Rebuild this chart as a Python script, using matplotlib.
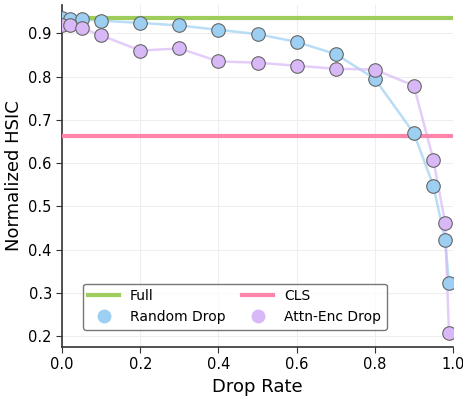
import numpy as np
import matplotlib.pyplot as plt
from matplotlib.lines import Line2D

drop_rate = [0.0, 0.02, 0.05, 0.1, 0.2, 0.3, 0.4, 0.5, 0.6, 0.7, 0.8, 0.9, 0.95, 0.98, 0.99]
random_drop = [0.935, 0.933, 0.932, 0.929, 0.924, 0.918, 0.908, 0.898, 0.880, 0.852,
               0.795, 0.669, 0.548, 0.422, 0.323]
attn_drop = [0.920, 0.919, 0.912, 0.895, 0.860, 0.865, 0.835, 0.832, 0.825, 0.818,
             0.816, 0.779, 0.608, 0.462, 0.208]
full_val = 0.935
cls_val = 0.663

c_full = '#9fcd5c'
c_cls = '#ff85ab'
c_rand = '#9ccff2'
c_attn = '#d9b8f7'

fig = plt.figure(figsize=(4.64, 3.96), dpi=100)
ax = fig.add_axes([0.134, 0.124, 0.842, 0.863])

ax.plot(drop_rate, random_drop, color=c_rand, lw=1.8, alpha=0.7, zorder=2)
ax.plot(drop_rate, attn_drop, color=c_attn, lw=1.8, alpha=0.7, zorder=2)
ax.axhline(full_val, color=c_full, lw=3, zorder=3)
ax.axhline(cls_val, color=c_cls, lw=3, zorder=3)
ax.scatter(drop_rate, random_drop, s=95, color=c_rand, edgecolor='#666666', lw=0.8, zorder=4)
ax.scatter(drop_rate, attn_drop, s=95, color=c_attn, edgecolor='#666666', lw=0.8, zorder=4)

ax.set_xlim(0, 1.0)
ax.set_ylim(0.175, 0.965)
ax.set_xticks([0.0, 0.2, 0.4, 0.6, 0.8, 1.0])
ax.set_yticks([0.2, 0.3, 0.4, 0.5, 0.6, 0.7, 0.8, 0.9])
ax.grid(True, color='#eeeeee', lw=0.8)
ax.set_axisbelow(True)
for s in ['top', 'right']:
    ax.spines[s].set_visible(False)
for s in ['left', 'bottom']:
    ax.spines[s].set_color('#333333')
    ax.spines[s].set_linewidth(1.2)
ax.tick_params(labelsize=10.5, length=4, color='#333333')
ax.set_xlabel('Drop Rate', fontsize=13)
ax.set_ylabel('Normalized HSIC', fontsize=13)

handles = [
    Line2D([], [], color=c_full, lw=3, label='Full'),
    Line2D([], [], color=c_rand, marker='o', ls='none', ms=9, label='Random Drop'),
    Line2D([], [], color=c_cls, lw=3, label='CLS'),
    Line2D([], [], color=c_attn, marker='o', ls='none', ms=9, label='Attn-Enc Drop'),
]
ax.legend(handles=handles, ncol=2, loc='lower left', bbox_to_anchor=(0.035, 0.03),
          fontsize=10, frameon=True, edgecolor='#555555', fancybox=True,
          columnspacing=1.2, handlelength=2.2)

fig.savefig('out.png', dpi=100)
